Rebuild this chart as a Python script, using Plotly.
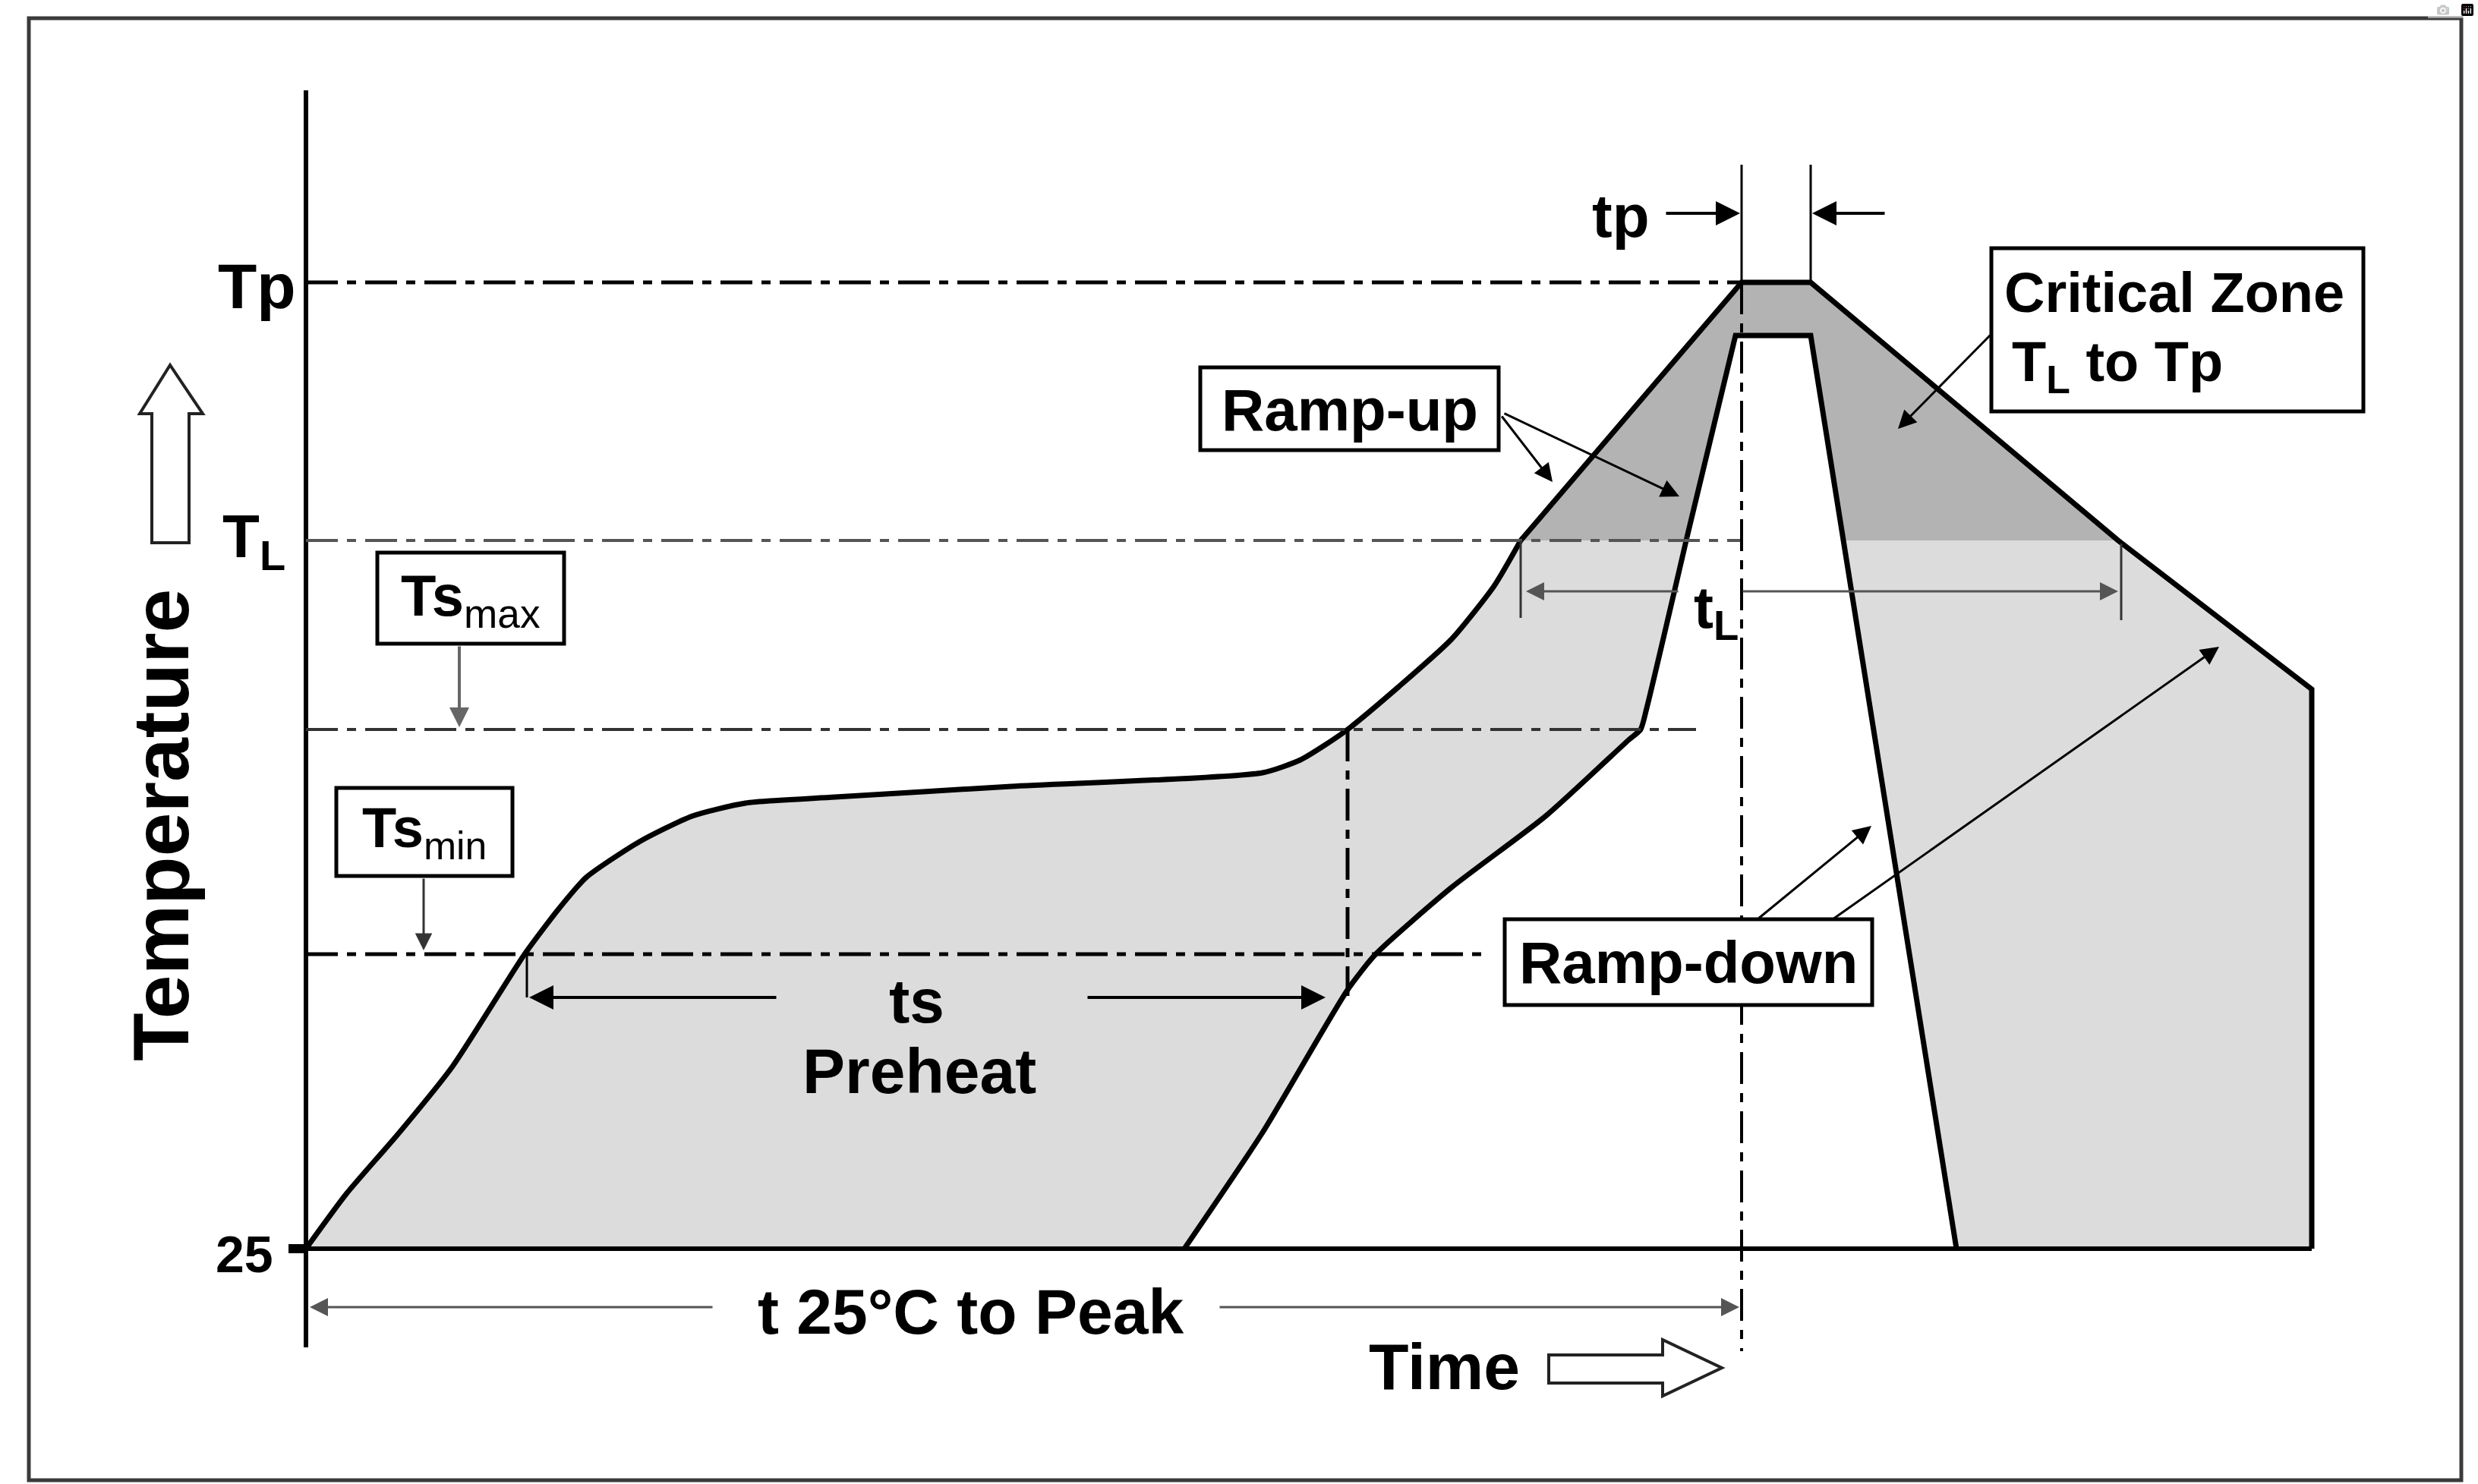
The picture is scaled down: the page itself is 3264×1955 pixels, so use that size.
import plotly.graph_objects as go

# ---------------- data (schematic units: t = time, T = temperature above the 25 °C baseline) -------------
level_names = ["25", "Tsmin", "Tsmax", "TL", "Tp"]
level_values = [0, 388, 684, 933, 1273]

# upper (slowest-allowed) profile envelope
outer_t = [0, 53, 123, 193, 288, 334, 369, 439, 509, 579, 697, 929, 1260, 1310, 1343, 1372,
           1439, 1509, 1565, 1600, 1891, 1982, 2387, 2642, 2642]
outer_T = [0, 72, 153, 240, 388, 449, 489, 536, 570, 587, 595, 609, 627, 644, 664, 684,
           740, 803, 873, 933, 1273, 1273, 933, 737, 0]

# lower (fastest-allowed) profile envelope
inner_t = [1157, 1260, 1372, 1409, 1509, 1633, 1742, 1758, 1766, 1819, 1883, 1982, 2174]
inner_T = [0, 153, 341, 388, 476, 570, 670, 684, 712, 937, 1203, 1203, 0]

# key times
ts_start, ts_end = 288, 1372
tL_start, tL_end = 1600, 2391
tp_start, tp_end = 1891, 1982

LIGHT = "#dcdcdc"
DARK = "#b3b3b3"
FONT = "Liberation Sans, Arial, Helvetica, sans-serif"

lv = dict(zip(level_names, level_values))


# picture-position helpers (layout only)
def X(p):
    return p - 403


def Y(p):
    return 1645 - p


def clip_above(xs, ys, yc):
    """Sutherland-Hodgman clip of a closed polygon to the half plane y >= yc."""
    pts = list(zip(xs, ys))
    out = []
    n = len(pts)
    for i in range(n):
        cx, cy = pts[i]
        px_, py_ = pts[i - 1]
        cin, pin = cy >= yc, py_ >= yc
        if cin:
            if not pin:
                f = (yc - py_) / (cy - py_)
                out.append((px_ + f * (cx - px_), yc))
            out.append((cx, cy))
        elif pin:
            f = (yc - py_) / (cy - py_)
            out.append((px_ + f * (cx - px_), yc))
    return [p[0] for p in out], [p[1] for p in out]


band_t = outer_t + inner_t[::-1]
band_T = outer_T + inner_T[::-1]
crit_t, crit_T = clip_above(band_t, band_T, lv["TL"])

fig = go.Figure()
fig.add_trace(go.Scatter(x=band_t + [band_t[0]], y=band_T + [band_T[0]], fill="toself", fillcolor=LIGHT,
                         mode="lines", line=dict(width=0), hoverinfo="skip"))
fig.add_trace(go.Scatter(x=crit_t + [crit_t[0]], y=crit_T + [crit_T[0]], fill="toself", fillcolor=DARK,
                         mode="lines", line=dict(width=0), hoverinfo="skip"))

# curved parts drawn smooth, straight parts drawn as straight segments
k_out = outer_t.index(tL_start)
k_in = inner_T.index(937)
LW = 7
fig.add_trace(go.Scatter(x=outer_t[:k_out + 1], y=outer_T[:k_out + 1], mode="lines",
                         line=dict(color="black", width=LW, shape="spline", smoothing=0.6), hoverinfo="skip"))
fig.add_trace(go.Scatter(x=outer_t[k_out:], y=outer_T[k_out:], mode="lines",
                         line=dict(color="black", width=LW), hoverinfo="skip"))
fig.add_trace(go.Scatter(x=inner_t[:k_in + 1], y=inner_T[:k_in + 1], mode="lines",
                         line=dict(color="black", width=LW, shape="spline", smoothing=0.6), hoverinfo="skip"))
fig.add_trace(go.Scatter(x=inner_t[k_in:], y=inner_T[k_in:], mode="lines",
                         line=dict(color="black", width=LW), hoverinfo="skip"))

shapes = []


def line(x0, y0, x1, y1, width=3, color="black", dash="solid"):
    shapes.append(dict(type="line", xref="x", yref="y", x0=x0, y0=y0, x1=x1, y1=y1,
                       line=dict(color=color, width=width, dash=dash)))


def box(px0, py0, px1, py1):
    shapes.append(dict(type="rect", xref="x", yref="y", x0=X(px0), y0=Y(py1), x1=X(px1), y1=Y(py0),
                       fillcolor="white", line=dict(color="black", width=5)))


DD = "42px,12px,12px,12px"
# outer frame
shapes.append(dict(type="rect", xref="x", yref="y", x0=X(38), y0=Y(1950), x1=X(3242), y1=Y(24),
                   line=dict(color="#3a3a3a", width=5)))
# axes
line(0, Y(119), 0, Y(1775), width=6)
line(0, 0, outer_t[-1], 0, width=6)
line(X(380), 0, 0, 0, width=12)
# level lines
line(0, lv["Tp"], tp_start, lv["Tp"], width=5, dash=DD)
line(0, lv["TL"], tp_start, lv["TL"], width=4, color="#555555", dash=DD)
line(0, lv["Tsmax"], X(2234), lv["Tsmax"], width=4, color="#333333", dash=DD)
line(0, lv["Tsmin"], X(1962), lv["Tsmin"], width=5, dash=DD)
# vertical markers
line(ts_end, lv["Tsmax"], ts_end, Y(1312), width=5, dash=DD)
line(tp_start, lv["Tp"], tp_start, Y(1780), width=4, dash=DD)
line(tp_start, lv["Tp"], tp_start, Y(217), width=3)
line(tp_end, lv["Tp"], tp_end, Y(217), width=3)
line(tL_start, lv["TL"], tL_start, Y(814), width=3, color="#333333")
line(tL_end, Y(716), tL_end, Y(817), width=3, color="#333333")
line(ts_start + 3, lv["Tsmin"], ts_start + 3, Y(1314), width=3)

# outline arrows (Temperature up, Time right)
up = [(200, 715), (200, 545), (184, 545), (224, 481), (267, 545), (249, 545), (249, 715)]
tm = [(2040, 1785), (2190, 1785), (2190, 1765), (2268, 1802), (2190, 1839), (2190, 1822), (2040, 1822)]
for poly in (up, tm):
    path = "M " + " L ".join(f"{X(a)},{Y(b)}" for a, b in poly) + " Z"
    shapes.append(dict(type="path", xref="x", yref="y", path=path, fillcolor="white",
                       line=dict(color="#222222", width=4)))

# labelled boxes
box(497, 728, 743, 848)      # Ts max
box(443, 1038, 675, 1154)    # Ts min
box(1581, 484, 1974, 593)    # Ramp-up
box(2623, 327, 3113, 542)    # Critical zone
box(1982, 1211, 2466, 1324)  # Ramp-down

ann = []


def text(s, px_, py_, size, xanchor="center", angle=0, weight="bold"):
    ann.append(dict(x=X(px_), y=Y(py_), xref="x", yref="y", text=s, showarrow=False,
                    xanchor=xanchor, yanchor="middle", textangle=angle,
                    font=dict(family=FONT, size=size, color="black", weight=weight)))


def arrow(hx, hy, tx, ty, width=3, color="black", size=1.6):
    ann.append(dict(x=X(hx), y=Y(hy), ax=X(tx), ay=Y(ty), xref="x", yref="y", axref="x", ayref="y",
                    text="", showarrow=True, arrowhead=2, arrowsize=size, arrowwidth=width,
                    arrowcolor=color, standoff=0, startstandoff=0))


text("Temperature", 212, 1087, 104, angle=-90)
text("Tp", 392, 377, 84, xanchor="right")
text("T<sub>L</sub>", 378, 712, 80, xanchor="right")
text("25", 362, 1652, 68, xanchor="right")
text("tp", 2135, 284, 80)
text("t<sub>L</sub>", 2292, 805, 78, xanchor="right")
text("Ramp-up", 1778, 540, 78)
text("Critical Zone", 2638, 385, 74, xanchor="left")
text("T<sub>L</sub> to Tp", 2648, 482, 74, xanchor="left")
text("Ramp-down", 2224, 1268, 78)
text("<b>Ts</b><sub>max</sub>", 620, 790, 76, weight="normal")
text("<b>Ts</b><sub>min</sub>", 559, 1096, 74, weight="normal")
text("ts", 1207, 1318, 82)
text("Preheat", 1211, 1411, 84)
text("t 25°C to Peak", 1278, 1728, 84)
text("Time", 1902, 1800, 86)

arrow(605, 958, 605, 850, width=4, color="#666666", size=1.3)
arrow(558, 1252, 558, 1156, width=3, color="#333333", size=1.5)
arrow(697, 1314, 1024, 1314, width=4)
arrow(1746, 1314, 1431, 1314, width=4)
arrow(408, 1722, 940, 1722, width=3, color="#555555")
arrow(2291, 1722, 1605, 1722, width=3, color="#555555")
arrow(2292, 281, 2193, 281, width=4)
arrow(2387, 281, 2484, 281, width=4)
arrow(2010, 779, 2212, 779, width=3, color="#555555")
arrow(2790, 779, 2294, 779, width=3, color="#555555")
arrow(2045, 635, 1977, 547, width=3)
arrow(2212, 654, 1980, 544, width=3)
arrow(2500, 565, 2623, 440, width=3)
arrow(2465, 1088, 2315, 1211, width=3)
arrow(2923, 852, 2414, 1211, width=3)

fig.update_layout(
    width=3264, height=1955, autosize=False,
    margin=dict(l=0, r=0, t=0, b=0),
    paper_bgcolor="white", plot_bgcolor="white",
    showlegend=False,
    xaxis=dict(range=[X(0), X(3264)], visible=False, fixedrange=True),
    yaxis=dict(range=[Y(1955), Y(0)], visible=False, fixedrange=True),
    shapes=shapes, annotations=ann,
)

fig.write_html("out.html", include_plotlyjs=True,
               post_script="document.body.style.margin='0';document.body.style.overflow='hidden';")
